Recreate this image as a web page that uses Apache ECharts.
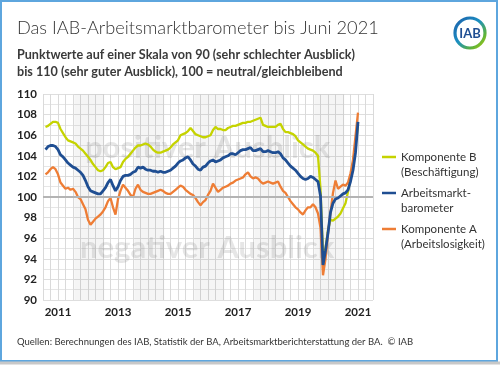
<!DOCTYPE html>
<html><head><meta charset="utf-8">
<script src="https://cdn.jsdelivr.net/npm/echarts@6/dist/echarts.min.js"></script>
<style>html,body{margin:0;padding:0;background:#fff}#c{width:500px;height:365px}</style>
</head><body><div id="c"></div>
<script>
// Monthly values, Jan 2011 .. Jun 2021
const compB = [
106.8,106.9,107.1,107.3,107.3,107.2,106.6,106.2,105.8,105.5,105.4,105.3,
105.2,104.9,104.7,104.5,104.2,103.9,103.6,103.2,102.9,102.6,102.5,102.6,
102.9,103.3,103.4,102.9,102.7,102.8,102.9,103.4,103.7,103.9,104.2,104.5,
104.8,105.0,105.0,105.1,105.2,105.1,104.9,104.6,104.4,104.3,104.3,104.4,
104.5,104.6,104.8,105.1,105.3,105.5,106.0,106.1,106.2,106.4,106.7,106.4,
106.1,106.0,105.9,105.8,105.8,105.9,106.0,106.5,106.8,106.6,106.6,106.5,
106.5,106.7,106.8,106.9,106.9,107.0,107.1,107.2,107.2,107.3,107.3,107.4,
107.5,107.6,107.7,107.0,106.9,106.8,106.8,106.8,106.8,107.0,107.1,106.6,
106.3,106.3,106.2,106.1,105.9,105.5,105.3,105.1,104.9,104.7,104.6,104.5,
104.3,104.0,100.8,94.4,95.0,96.8,97.8,97.7,97.9,98.1,98.4,98.9,
99.4,100.5,101.8,103.3,105.0,107.0
];
const barometer = [
104.6,104.9,105.0,105.0,104.9,104.6,104.1,103.9,103.6,103.3,103.1,102.9,
102.8,102.6,102.4,102.1,101.6,101.0,100.6,100.5,100.4,100.3,100.3,100.6,
100.9,101.4,101.7,101.1,100.6,101.0,101.6,102.0,102.1,102.1,102.2,102.4,
102.5,102.9,102.8,102.9,102.7,102.6,102.6,102.5,102.5,102.4,102.5,102.4,
102.4,102.5,102.6,102.8,103.0,103.3,103.5,103.6,103.8,103.9,103.6,103.2,
103.0,102.7,102.6,102.9,103.0,103.3,103.5,103.6,103.4,103.5,103.6,103.8,
103.9,104.0,104.2,104.2,104.1,104.3,104.5,104.6,104.6,104.7,104.8,104.5,
104.5,104.6,104.7,104.4,104.4,104.5,104.4,104.3,104.3,104.4,104.2,103.8,
103.6,103.3,103.0,102.8,102.6,102.3,102.0,101.8,101.7,101.8,102.0,101.9,
101.7,101.5,100.1,93.4,94.8,96.5,98.5,99.4,99.8,99.9,100.1,100.3,
100.4,100.7,101.5,102.6,104.3,107.3
];
const compA = [
102.2,102.4,102.7,102.9,102.7,102.2,101.4,101.1,100.8,100.9,100.7,100.8,
100.5,100.0,99.8,99.3,98.8,97.8,97.3,97.6,97.9,98.1,98.3,98.6,
99.0,99.6,99.9,99.0,98.3,99.8,100.6,101.2,100.9,100.6,100.2,100.0,
100.8,101.2,100.7,100.5,100.4,100.3,100.3,100.4,100.5,100.6,100.7,100.6,
100.4,100.3,100.3,100.5,100.7,100.9,101.1,101.0,100.7,100.5,100.3,100.2,
99.9,99.5,99.2,99.5,99.7,100.2,100.6,101.3,100.9,100.5,100.7,100.9,
101.0,101.1,101.3,101.4,101.6,101.7,101.8,101.9,102.2,102.4,102.0,101.8,
101.9,101.8,101.5,101.3,101.4,101.5,101.4,101.3,101.4,101.5,101.0,100.6,
100.4,100.0,99.6,99.3,99.0,98.8,98.5,98.3,98.7,99.0,99.0,99.3,
99.0,98.4,97.0,92.4,94.0,96.5,98.5,100.4,101.6,100.8,101.0,101.2,
101.1,101.4,102.3,103.6,105.9,108.2
];
const firstYear = 2011;
const yearLabels = ['2011','2013','2015','2017','2019','2021'];
const yearLabelMonths = [5,29,53,77,101,125];
const shadedYears = [2012,2014,2016,2018,2020];
const seriesNames = ['Komponente B', 'Arbeitsmarktbarometer', 'Komponente A'];
const legendLines = [['Komponente B','(Beschäftigung)'],['Arbeitsmarkt-','barometer'],['Komponente A','(Arbeitslosigkeit)']];
const colors = ['#c5d300', '#1f4e92', '#ee7d35'];

const FONT = 'Lato, "Open Sans", sans-serif';
const toXY = arr => arr.map((v, i) => [i, v]);

const chart = echarts.init(document.getElementById('c'), null, {renderer: 'canvas'});

const bands = shadedYears.map(y => {
  const s = (y - firstYear) * 12 - 0.5;
  return [{xAxis: s}, {xAxis: s + 12}];
});

const legendY = [157, 193, 229];
const legendGraphics = [];
legendLines.forEach((lines, i) => {
  legendGraphics.push({type: 'line', z: 5, shape: {x1: 382, y1: legendY[i], x2: 396, y2: legendY[i]},
    style: {stroke: colors[i], lineWidth: 2.5}});
  lines.forEach((t, j) => {
    legendGraphics.push({type: 'text', z: 5, x: 401, y: legendY[i] + j * 15.5,
      style: {text: t, font: '11.5px ' + FONT, fill: '#333', verticalAlign: 'middle'}});
  });
});

const option = {
  animation: false,
  backgroundColor: '#fff',
  grid: {left: 43, right: 127, top: 94, bottom: 65, containLabel: false},
  xAxis: [{
    type: 'value', min: -1, max: 131,
    axisLine: {show: false}, axisTick: {show: false}, splitLine: {show: false},
    axisLabel: {
      customValues: yearLabelMonths,
      formatter: v => yearLabels[yearLabelMonths.indexOf(v)] || '',
      fontFamily: FONT, fontWeight: 'bold', fontSize: 11.5, color: '#222', margin: 6
    }
  }, {
    type: 'value', min: 0, max: 132, interval: 3, position: 'bottom',
    axisLine: {show: false}, axisTick: {show: false}, axisLabel: {show: false},
    splitLine: {show: true, lineStyle: {color: '#dadada', width: 1}}
  }],
  yAxis: {
    type: 'value', min: 90, max: 110, interval: 2,
    axisLine: {show: false}, axisTick: {show: false},
    axisLabel: {fontFamily: FONT, fontWeight: 'bold', fontSize: 11.5, color: '#222', margin: 6},
    splitLine: {show: true, lineStyle: {color: '#dedede', width: 1}},
    minorTick: {show: false, splitNumber: 2},
    minorSplitLine: {show: true, lineStyle: {color: '#e6e6e6', width: 1}}
  },
  series: [
    {name: seriesNames[0], type: 'line', data: toXY(compB), showSymbol: false, symbol: 'none',
     lineStyle: {color: colors[0], width: 2.3}, itemStyle: {color: colors[0]}, z: 3,
     markArea: {silent: true, itemStyle: {color: 'rgba(0,0,0,0.04)'}, data: bands},
     markLine: {silent: true, symbol: 'none', label: {show: false},
       lineStyle: {color: '#b4b4b4', width: 2, type: 'solid'}, data: [{yAxis: 100}]}},
    {name: seriesNames[2], type: 'line', data: toXY(compA), showSymbol: false, symbol: 'none',
     lineStyle: {color: colors[2], width: 2.3}, itemStyle: {color: colors[2]}, z: 4},
    {name: seriesNames[1], type: 'line', data: toXY(barometer), showSymbol: false, symbol: 'none',
     lineStyle: {color: colors[1], width: 2.8}, itemStyle: {color: colors[1]}, z: 5}
  ],
  graphic: [
    {type: 'rect', z: 0, shape: {x: 1, y: 1, width: 496, height: 360},
     style: {fill: 'none', stroke: '#5ea6de', lineWidth: 2}},
    {type: 'line', z: 0, shape: {x1: 0, y1: 363, x2: 500, y2: 363}, style: {stroke: '#c8c8c8', lineWidth: 3}},
    {type: 'text', z: 5, x: 17, y: 28, style: {text: 'Das IAB-Arbeitsmarktbarometer bis Juni 2021',
      font: '300 18.2px ' + FONT, fill: '#333', verticalAlign: 'middle'}},
    {type: 'text', z: 5, x: 17, y: 55, style: {text: 'Punktwerte auf einer Skala von 90 (sehr schlechter Ausblick)',
      font: 'bold 12.6px ' + FONT, fill: '#3a3a3a', verticalAlign: 'middle'}},
    {type: 'text', z: 5, x: 17, y: 71.5, style: {text: 'bis 110 (sehr guter Ausblick), 100 = neutral/gleichbleibend',
      font: 'bold 12.6px ' + FONT, fill: '#3a3a3a', verticalAlign: 'middle'}},
    {type: 'circle', z: 5, shape: {cx: 470, cy: 33, r: 15},
     style: {fill: '#fff', lineWidth: 3.2,
       stroke: new echarts.graphic.LinearGradient(0, 0, 1, 1, [
         {offset: 0, color: '#1d5aa8'}, {offset: 0.45, color: '#1b8fc2'}, {offset: 0.75, color: '#5db33a'}, {offset: 1, color: '#c8d400'}])}},
    {type: 'text', z: 6, x: 470, y: 33.5, style: {text: 'IAB', font: 'bold 13px ' + FONT, fill: '#1f4e92',
      align: 'center', verticalAlign: 'middle'}},
    {type: 'text', z: 1, x: 85, y: 148, style: {text: 'positiver Ausblick',
      font: 'bold 31px ' + FONT, fill: 'rgba(130,130,130,0.2)', verticalAlign: 'middle'}},
    {type: 'text', z: 1, x: 80, y: 248, style: {text: 'negativer Ausblick',
      font: 'bold 31px ' + FONT, fill: 'rgba(130,130,130,0.2)', verticalAlign: 'middle'}},
    {type: 'text', z: 5, x: 17, y: 342, style: {text: 'Quellen: Berechnungen des IAB, Statistik der BA, Arbeitsmarktberichterstattung der BA.  © IAB',
      font: '9.5px ' + FONT, fill: '#333', verticalAlign: 'middle'}}
  ].concat(legendGraphics)
};
chart.setOption(option);
</script>
</body></html>
